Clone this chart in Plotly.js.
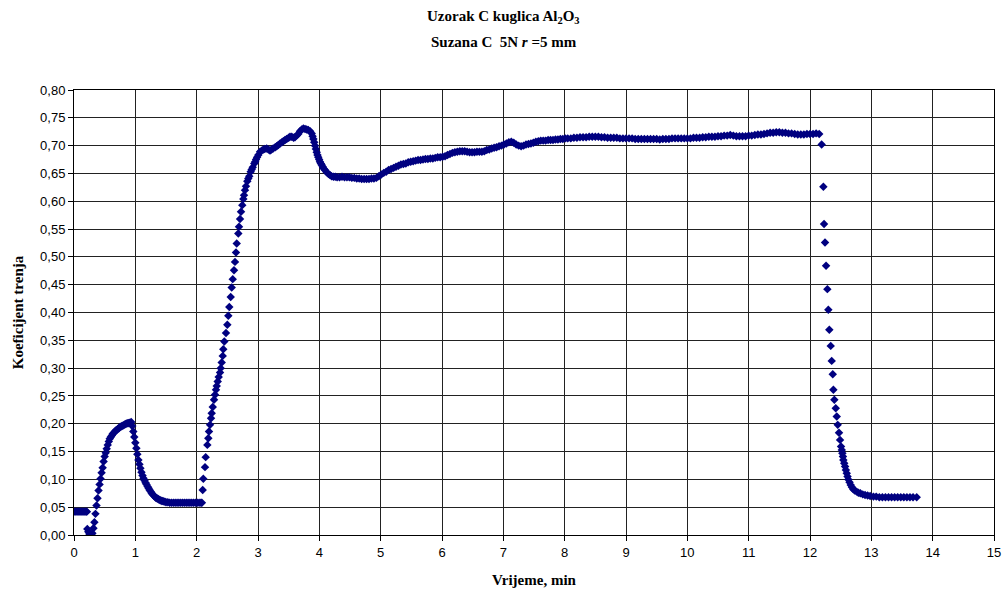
<!DOCTYPE html>
<html>
<head>
<meta charset="utf-8">
<script src="https://cdn.plot.ly/plotly-3.0.1.min.js"></script>
<style>html,body{margin:0;padding:0;background:#fff;}#chart{width:1008px;height:593px;}</style>
</head>
<body>
<div id="chart"></div>
<script>
// ---- data (time in min, friction coefficient) ----
const startTime = [0.000,0.017,0.033,0.050,0.067,0.083,0.100,0.117,0.133,0.150,0.167,0.183,0.200,0.210];
const startCoef = [0.042,0.042,0.042,0.042,0.042,0.042,0.042,0.042,0.042,0.042,0.042,0.042,0.042,0.042];

const firstPeakTime = [0.217,0.233,0.250,0.267,0.283,0.300,0.317,0.333,0.350,0.367,0.383,0.400,0.417,0.433,0.450,0.467,0.483,0.500,0.517,0.533,0.550,0.567,0.583,0.600,0.617,0.633,0.650,0.667,0.683,0.700,0.717,0.733,0.750,0.767,0.783,0.800,0.817,0.833,0.850,0.867,0.883,0.900,0.917,0.933,
  0.950,0.967,0.983,1.000,1.017,1.033,1.050,1.067,1.083,1.100,1.117,1.133,1.150,1.167,1.183,1.200,1.217,1.233,1.250,1.267,1.283,1.300,1.317,1.333,1.350,1.367,1.383,1.400,1.417,1.433,1.450,1.467,1.483,1.500,
  1.530,1.560,1.590,1.620,1.650,1.680,1.710,1.740,1.770,1.800,1.830,1.860,1.890,1.920,1.950,1.980,2.010,2.040,2.070,2.085];
const firstPeakCoef = [0.011,0.006,0.002,0.000,0.000,0.003,0.012,0.023,0.038,0.053,0.066,0.080,0.091,0.101,0.112,0.121,0.132,0.141,0.148,0.155,0.162,0.168,0.173,0.176,0.179,0.182,0.184,0.186,0.188,0.189,0.191,0.192,0.194,0.195,0.196,0.197,0.198,0.199,0.200,0.201,0.201,0.202,0.202,0.203,
  0.196,0.186,0.176,0.166,0.156,0.145,0.135,0.127,0.120,0.113,0.107,0.102,0.098,0.094,0.091,0.087,0.084,0.081,0.078,0.075,0.073,0.071,0.069,0.067,0.066,0.065,0.064,0.063,0.062,0.061,0.061,0.060,0.060,0.059,
  0.059,0.058,0.058,0.058,0.058,0.058,0.058,0.058,0.058,0.058,0.058,0.058,0.058,0.058,0.058,0.058,0.058,0.058,0.058,0.058];

const riseTime = [2.098,2.108,2.136,2.147,2.174,2.190,2.201,2.218,2.234,2.245,2.262,2.283,2.299,2.315,2.327,2.343,2.359,2.381,2.392,2.408,2.425,2.434,2.451,2.478,2.500,2.516,2.532,2.555,2.571,2.588,2.609,2.625,2.641,2.653,2.679,2.690,2.707,2.723,2.744,2.761,2.772,2.788,2.804,2.826,2.842,2.858,2.881,2.897,2.914,2.940,2.955,2.968,2.985];
const riseCoef = [0.081,0.101,0.122,0.140,0.162,0.174,0.186,0.198,0.210,0.219,0.230,0.243,0.252,0.261,0.268,0.276,0.284,0.292,0.300,0.310,0.322,0.334,0.348,0.363,0.378,0.394,0.410,0.428,0.445,0.460,0.476,0.491,0.508,0.524,0.542,0.554,0.568,0.581,0.593,0.604,0.611,0.620,0.627,0.636,0.641,0.645,0.653,0.657,0.661,0.668,0.671,0.675,0.679];

const plateauTime = [3.005,3.033,3.060,3.087,3.110,3.142,3.170,3.196,3.220,3.247,3.280,3.305,3.331,3.360,3.390,3.413,3.440,3.468,3.500,3.522,3.550,3.580,3.603,3.630,3.657,3.685,3.713,3.740,3.767,3.794,3.820,3.850,3.876,3.890,3.903,3.917,3.930,3.943,3.957,3.970,3.983,3.997,4.010,4.025,4.039,4.055,4.070,4.092,4.120,4.150,4.174,4.200,4.230,4.260,4.290,4.330,4.370,4.410,4.450,4.490,4.530,4.570,4.610,4.650,4.690,4.730,4.770,4.810,4.850,4.890,4.930,4.970,
  5.010,5.050,5.090,5.130,5.170,5.210,5.250,5.290,5.330,5.370,5.410,5.450,5.490,5.530,5.570,5.610,5.650,5.690,5.730,5.770,5.810,5.850,5.890,5.930,5.970,6.010,6.050,6.090,6.130,6.170,6.210,6.250,6.290,6.330,6.370,6.410,6.450,6.490,6.530,6.570,6.610,6.650,6.690,6.730,6.770,6.810,6.850,6.890,6.930,6.970,
  7.010,7.050,7.090,7.130,7.170,7.210,7.250,7.290,7.330,7.370,7.410,7.450,7.490,7.530,7.570,7.610,7.650,7.690,7.730,7.770,7.810,7.850,7.890,7.930,7.970,8.010,8.050,8.100,8.150,8.200,8.250,8.300,8.350,8.400,8.450,8.500,8.550,8.600,8.650,8.700,8.750,8.800,8.850,8.900,8.950,
  9.000,9.050,9.100,9.150,9.200,9.250,9.300,9.350,9.400,9.450,9.500,9.550,9.600,9.650,9.700,9.750,9.800,9.850,9.900,9.950,10.000,10.050,10.100,10.150,10.200,10.250,10.300,10.350,10.400,10.450,10.500,10.550,10.600,10.650,10.700,10.750,10.800,10.850,10.900,10.950,
  11.000,11.050,11.100,11.150,11.200,11.250,11.300,11.350,11.400,11.450,11.500,11.550,11.600,11.650,11.700,11.750,11.800,11.850,11.900,11.950,12.000,12.050,12.100,12.150];
const plateauCoef = [0.683,0.689,0.691,0.693,0.694,0.695,0.693,0.691,0.693,0.695,0.697,0.699,0.701,0.704,0.706,0.708,0.710,0.712,0.714,0.716,0.716,0.714,0.715,0.718,0.721,0.726,0.729,0.731,0.730,0.729,0.728,0.726,0.722,0.717,0.712,0.706,0.700,0.694,0.688,0.683,0.679,0.675,0.671,0.668,0.665,0.662,0.659,0.656,0.652,0.649,0.647,0.645,0.644,0.644,0.643,0.643,0.644,0.643,0.643,0.643,0.642,0.642,0.641,0.641,0.640,0.640,0.640,0.640,0.641,0.641,0.642,0.645,
  0.648,0.651,0.653,0.656,0.658,0.660,0.662,0.664,0.666,0.667,0.668,0.670,0.671,0.672,0.673,0.674,0.674,0.675,0.676,0.676,0.677,0.677,0.678,0.679,0.679,0.680,0.681,0.683,0.685,0.687,0.688,0.689,0.690,0.690,0.690,0.689,0.688,0.688,0.688,0.689,0.689,0.689,0.690,0.692,0.693,0.695,0.696,0.697,0.699,0.700,
  0.702,0.704,0.706,0.707,0.705,0.702,0.700,0.699,0.700,0.702,0.703,0.704,0.705,0.707,0.708,0.709,0.709,0.709,0.710,0.710,0.710,0.711,0.711,0.712,0.712,0.713,0.713,0.713,0.714,0.714,0.715,0.715,0.715,0.716,0.716,0.716,0.716,0.715,0.715,0.714,0.714,0.714,0.714,0.713,0.713,
  0.713,0.713,0.713,0.712,0.712,0.712,0.712,0.712,0.712,0.712,0.712,0.711,0.712,0.712,0.712,0.713,0.713,0.713,0.713,0.713,0.713,0.713,0.714,0.714,0.714,0.715,0.715,0.716,0.716,0.716,0.717,0.717,0.718,0.718,0.719,0.718,0.717,0.717,0.717,0.717,
  0.718,0.718,0.719,0.720,0.720,0.721,0.722,0.723,0.723,0.724,0.724,0.723,0.723,0.722,0.722,0.721,0.720,0.720,0.720,0.721,0.721,0.721,0.722,0.721];

const dropTime = [12.190,12.218,12.229,12.245,12.262,12.283,12.299,12.315,12.338,12.354,12.371,12.381,12.397,12.420,12.436,12.452,12.473,12.490,12.506,12.518,12.528,12.537,12.544,12.558,12.572,12.585,12.599,12.612,12.625,12.645,12.664,12.685,12.707,12.730,12.760,12.789,12.820,12.860,12.898,12.940,12.980,
  13.034,13.080,13.130,13.180,13.230,13.280,13.330,13.380,13.430,13.480,13.530,13.580,13.630,13.680,13.740];
const dropCoef = [0.702,0.626,0.559,0.526,0.484,0.442,0.405,0.369,0.340,0.313,0.289,0.261,0.243,0.228,0.213,0.198,0.184,0.171,0.159,0.153,0.147,0.141,0.135,0.129,0.123,0.117,0.111,0.105,0.100,0.095,0.090,0.086,0.082,0.080,0.078,0.076,0.075,0.073,0.072,0.071,0.070,
  0.069,0.069,0.068,0.068,0.068,0.068,0.068,0.068,0.068,0.068,0.068,0.068,0.068,0.068,0.068];

const titleLine1 = "Uzorak C kuglica Al<sub>2</sub>O<sub>3</sub>";
const titleLine2 = "Suzana C  5N <i>r</i> =5 mm";
const xTitle = "Vrijeme, min";
const yTitle = "Koeficijent trenja";

// ---- chart ----
const timeMin = [].concat(startTime, firstPeakTime, riseTime, plateauTime, dropTime);
const coef = [].concat(startCoef, firstPeakCoef, riseCoef, plateauCoef, dropCoef);

const trace = {
  x: timeMin, y: coef, type: 'scatter', mode: 'markers',
  marker: {symbol: 'diamond', size: 6.5, color: '#000080', line: {width: 0}},
  hoverinfo: 'x+y'
};

const serif = '"Liberation Serif", "Times New Roman", serif';
const sans = '"Liberation Sans", Arial, sans-serif';

const layout = {
  width: 1008, height: 593,
  margin: {l: 74, r: 14, t: 90, b: 58},
  paper_bgcolor: '#ffffff', plot_bgcolor: '#ffffff',
  separators: ', ',
  showlegend: false,
  font: {family: sans, size: 13, color: '#000'},
  xaxis: {
    range: [0, 15], dtick: 1, tick0: 0,
    showgrid: true, gridcolor: '#222', gridwidth: 1,
    zeroline: false, showline: true, linecolor: '#000', linewidth: 1, mirror: true,
    ticks: 'outside', ticklen: 5, tickcolor: '#000',
    tickfont: {family: sans, size: 13, color: '#000'},
    title: {text: xTitle, font: {family: serif, size: 15, color: '#000', weight: 'bold'}, standoff: 15}
  },
  yaxis: {
    range: [0, 0.8], dtick: 0.05, tick0: 0, tickformat: '.2f',
    showgrid: true, gridcolor: '#222', gridwidth: 1,
    zeroline: false, showline: true, linecolor: '#000', linewidth: 1, mirror: true,
    ticks: 'outside', ticklen: 5, tickcolor: '#000',
    tickfont: {family: sans, size: 13, color: '#000'},
    title: {text: yTitle, font: {family: serif, size: 15, color: '#000', weight: 'bold'}, standoff: 12}
  },
  annotations: [
    {text: '<b>' + titleLine1 + '</b>', xref: 'paper', yref: 'paper', x: 0.467, y: (535 - 17) / 445,
     xanchor: 'center', yanchor: 'middle', showarrow: false,
     font: {family: serif, size: 15, color: '#000'}},
    {text: '<b>' + titleLine2 + '</b>', xref: 'paper', yref: 'paper', x: 0.467, y: (535 - 42) / 445,
     xanchor: 'center', yanchor: 'middle', showarrow: false,
     font: {family: serif, size: 15, color: '#000'}}
  ]
};

Plotly.newPlot('chart', [trace], layout, {displayModeBar: false, staticPlot: true});
</script>
</body>
</html>
